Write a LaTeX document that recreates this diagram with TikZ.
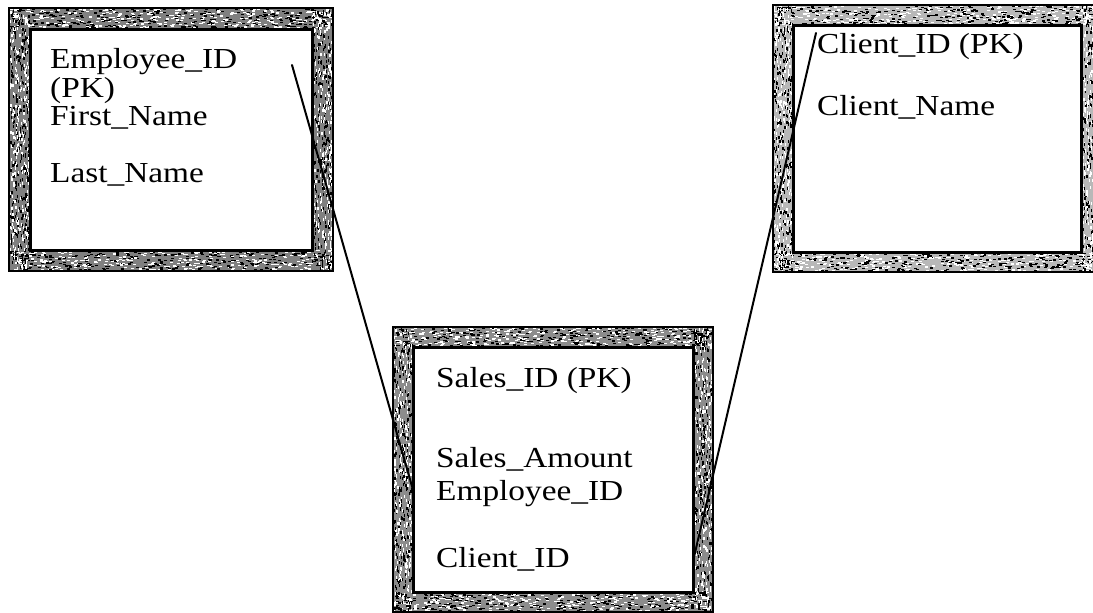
\documentclass[tikz,border=0pt]{standalone}
\usepackage{fontspec}
\setmainfont{Liberation Serif}[FakeStretch=1.15]

% random light and dark flecks inside a rectangle: x1 y1 x2 y2 count fleck-w fleck-h
\newcommand{\grain}[7]{%
  \foreach \k in {1,...,#5}{%
    \pgfmathsetmacro{\gx}{(#1)+((#3)-(#1)-(#6))*rnd}%
    \pgfmathsetmacro{\gy}{(#2)+((#4)-(#2)-(#7))*rnd}%
    \fill[white] (\gx,\gy) rectangle ++(#6,#7);%
    \pgfmathsetmacro{\gx}{(#1)+((#3)-(#1)-(#6))*rnd}%
    \pgfmathsetmacro{\gy}{(#2)+((#4)-(#2)-(#7))*rnd}%
    \fill[black] (\gx,\gy) rectangle ++(#6,#7);%
  }}

% textured picture-frame rim of a table: x1 y1 x2 y2 width shade
\newcommand{\tablerim}[6]{%
  \fill[black!#6, even odd rule] (#1,#2) rectangle (#3,#4)
    ({#1+#5},{#2+#5}) rectangle ({#3-#5},{#4-#5});
  \grain{#1}{#2}{#3}{#2+#5}{320}{3}{1.2}
  \grain{#1}{#4-#5}{#3}{#4}{320}{3}{1.2}
  \grain{#1}{#2}{#1+#5}{#4}{280}{1.2}{3}
  \grain{#3-#5}{#2}{#3}{#4}{280}{1.2}{3}
  \draw[rimedge] (#1,#2) rectangle (#3,#4);
}

\begin{document}
\begin{tikzpicture}[x=1pt,y=-1pt,
  field/.style={anchor=base west, inner sep=0pt, font=\fontsize{29}{29}\selectfont},
  tablebox/.style={draw=black, line width=3pt, fill=none},
  rimedge/.style={draw=black, line width=2.5pt},
  link/.style={draw=black, line width=2pt, line cap=round}]
\useasboundingbox (0,0) rectangle (1093,613);
\clip (0,0) rectangle (1093,613);
\pgfmathsetseed{4711}

% frames
\tablerim{9}{8}{333}{271}{21}{50}
\tablerim{393}{327}{713}{612}{20}{45}
\tablerim{773}{5}{1101}{272}{20}{28}

% table bodies
\node[tablebox, minimum width=282pt, minimum height=221pt] (employee) at (171,139.5) {};
\node[tablebox, minimum width=280pt, minimum height=245pt] (sales) at (553,469.5) {};
\node[tablebox, minimum width=288pt, minimum height=227pt] (client) at (937,138.5) {};

% Employee fields
\node[field] (empId) at (50,68) {Employee\_ID};
\node[field] (empPk) at (50,97) {(PK)};
\node[field] (empFirst) at (50,125.5) {First\_Name};
\node[field] (empLast) at (50,182) {Last\_Name};

% Client fields
\node[field] (cliId) at (817,53) {Client\_ID (PK)};
\node[field] (cliName) at (817,115) {Client\_Name};

% Sales fields
\node[field] (salId) at (436,387) {Sales\_ID (PK)};
\node[field] (salAmount) at (436,467) {Sales\_Amount};
\node[field] (salEmp) at (436,500) {Employee\_ID};
\node[field] (salCli) at (436,567) {Client\_ID};

% relationship lines
\coordinate (empKey) at (292,65);
\coordinate (empRef) at (413,490);
\coordinate (cliKey) at (816,33);
\coordinate (cliRef) at (694,557);
\draw[link] (empKey) -- (empRef);
\draw[link] (cliKey) -- (cliRef);
\end{tikzpicture}
\end{document}
